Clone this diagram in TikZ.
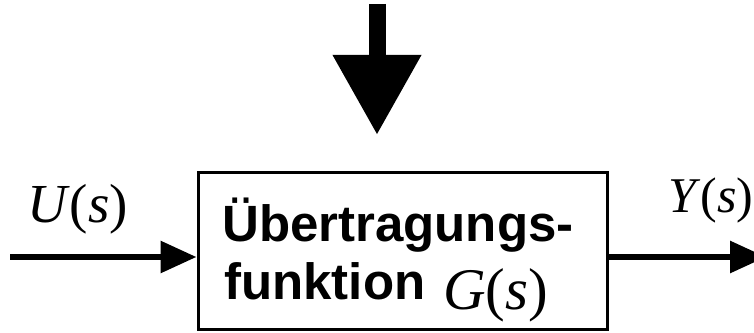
\documentclass[tikz,border=0pt]{standalone}
\usepackage{fontspec}
\setmainfont{Liberation Serif}
\newfontfamily\arialfont{Liberation Sans}
\usetikzlibrary{arrows.meta}
\tikzset{
  sig/.style={line width=6pt, -{Triangle[length=36pt,width=31pt]}},
  dist/.style={line width=17pt, -{Triangle[length=80pt,width=84pt]}},
  blockbox/.style={draw, line width=3pt, minimum width=409pt, minimum height=156pt, inner sep=0pt},
  boxtxt/.style={font=\arialfont\bfseries\fontsize{51}{53}\selectfont, inner sep=0pt, anchor=base west},
  mathtxt/.style={inner sep=0pt, anchor=base west}
}
\begin{document}
\begin{tikzpicture}[x=1pt,y=1pt]
\clip (0,0) rectangle (754,332);
\fill[white] (0,0) rectangle (754,332);
\node[blockbox] (box) at (402.5,81) {};
\node[boxtxt] (l1) at (222,91) {Übertragungs-};
\node[boxtxt] (l2) at (224,33) {funktion};
\node[mathtxt, font=\fontsize{59}{61}\selectfont] (g) at (443,23) {\textit{G}(\textit{s})};
\coordinate (uin) at (10,75);
\coordinate (yout) at (766,75);
\draw[sig] (uin) -- (box.west |- uin);
\draw[sig] (box.east |- yout) -- (yout);
\node[mathtxt, font=\fontsize{55}{57}\selectfont] (u) at (27,110) {\textit{U}(\textit{s})};
\node[mathtxt, font=\fontsize{50}{52}\selectfont] (y) at (668,119) {\textit{Y}(\textit{s})};
\coordinate (dstart) at (377,328);
\coordinate (dtip) at (377,197);
\draw[dist] (dstart) -- (dtip);
\end{tikzpicture}
\end{document}
